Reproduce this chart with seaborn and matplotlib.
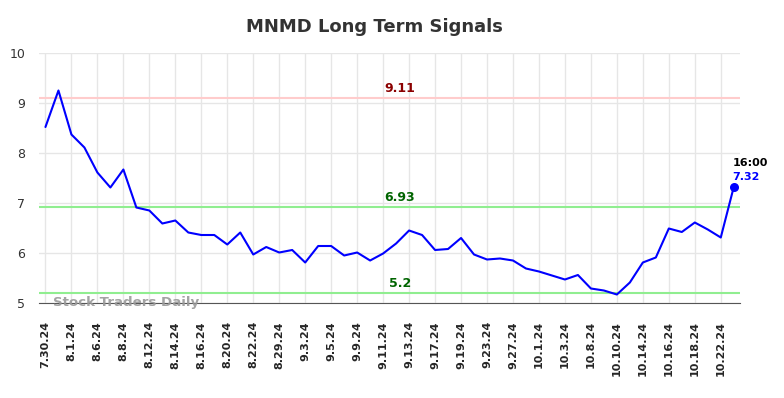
import matplotlib
matplotlib.use('Agg')
import matplotlib.pyplot as plt
import seaborn as sns
import pandas as pd

# signal values (every trading day), tick labels every second point
values = [8.52, 9.25, 8.37, 8.11, 7.61, 7.31, 7.67, 6.91, 6.85, 6.59,
          6.65, 6.41, 6.36, 6.36, 6.17, 6.41, 5.97, 6.12, 6.01, 6.06,
          5.81, 6.14, 6.14, 5.95, 6.01, 5.85, 5.99, 6.19, 6.45, 6.36,
          6.06, 6.08, 6.30, 5.97, 5.87, 5.89, 5.85, 5.69, 5.63, 5.55,
          5.47, 5.56, 5.29, 5.25, 5.17, 5.41, 5.81, 5.91, 6.49, 6.42,
          6.61, 6.47, 6.31, 7.32]
tick_labels = ['7.30.24', '8.1.24', '8.6.24', '8.8.24', '8.12.24', '8.14.24',
               '8.16.24', '8.20.24', '8.22.24', '8.29.24', '9.3.24', '9.5.24',
               '9.9.24', '9.11.24', '9.13.24', '9.17.24', '9.19.24', '9.23.24',
               '9.27.24', '10.1.24', '10.3.24', '10.8.24', '10.10.24',
               '10.14.24', '10.16.24', '10.18.24', '10.22.24']
resistance = 9.11
mid_level = 6.93
support = 5.2
last_time = '16:00'

df = pd.DataFrame({'idx': range(len(values)), 'signal': values})

sns.set_style('white')
fig = plt.figure(figsize=(7.84, 3.98), dpi=100)
ax = fig.add_axes([0.0497, 0.2387, 0.8945, 0.6281])

sns.lineplot(data=df, x='idx', y='signal', ax=ax, color='blue', linewidth=1.5)

# horizontal signal levels
ax.axhline(resistance, color='#ffcccc', linewidth=1.5, zorder=1)
ax.axhline(mid_level, color='#90ee90', linewidth=1.5, zorder=1)
ax.axhline(support, color='#90ee90', linewidth=1.5, zorder=1)

mid_x = 27.3
ax.text(mid_x, resistance + 0.05, f'{resistance:g}', color='#8b0000',
        fontweight='bold', fontsize=9, ha='center', va='bottom')
ax.text(mid_x, mid_level + 0.05, f'{mid_level:g}', color='#006400',
        fontweight='bold', fontsize=9, ha='center', va='bottom')
ax.text(mid_x, support + 0.05, f'{support:g}', color='#006400',
        fontweight='bold', fontsize=9, ha='center', va='bottom')

# last point marker and labels
last_i = len(values) - 1
ax.scatter([last_i], [values[-1]], color='blue', s=30, zorder=5)
ax.text(last_i - 0.1, values[-1] + 0.38, last_time, color='black',
        fontweight='bold', fontsize=8, ha='left', va='bottom')
ax.text(last_i - 0.1, values[-1] + 0.1, f'{values[-1]:g}', color='blue',
        fontweight='bold', fontsize=8, ha='left', va='bottom')

# watermark
ax.text(0.6, 5.0, 'Stock Traders Daily', color='#999999', fontweight='bold',
        fontsize=9.6, alpha=0.9, va='center', ha='left')

ax.set_xlim(-0.5, last_i + 0.5)
ax.set_ylim(5, 10)
ax.set_yticks([5, 6, 7, 8, 9, 10])
ax.set_xticks(range(0, len(values) - 1, 2))
ax.set_xticklabels(tick_labels, rotation=90, fontweight='bold', fontsize=8)
ax.tick_params(axis='y', labelsize=9, colors='#333333', length=0, pad=10)
ax.tick_params(axis='x', length=0, pad=13)
ax.grid(True, color='#e6e6e6', linewidth=1)
ax.set_xlabel('')
ax.set_ylabel('')
for s in ['top', 'right', 'left']:
    ax.spines[s].set_visible(False)
ax.spines['bottom'].set_color('#555555')

fig.suptitle('MNMD Long Term Signals', fontsize=13, fontweight='bold',
             color='#333333', x=0.478, y=0.955)

fig.savefig('out.png', dpi=100)
